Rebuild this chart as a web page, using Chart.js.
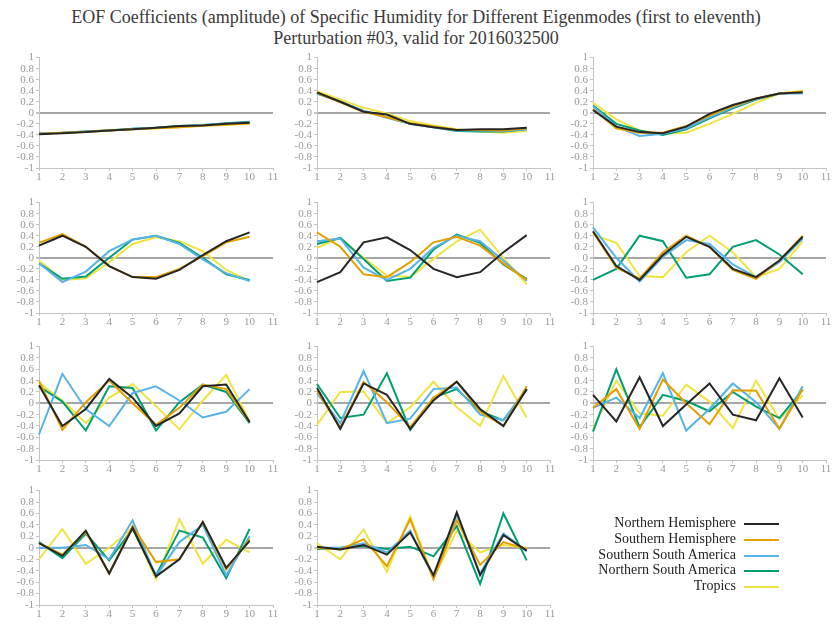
<!DOCTYPE html>
<html><head><meta charset="utf-8">
<script src="https://cdn.jsdelivr.net/npm/chart.js@4"></script>
<style>
body{margin:0;background:#fff;width:832px;height:628px;position:relative;overflow:hidden;font-family:"Liberation Serif","DejaVu Serif","Noto Serif",serif;}
#title{position:absolute;left:0;top:7px;width:832px;text-align:center;font-size:18px;line-height:21px;color:#3a3a3a}
canvas{position:absolute}
.lg{position:absolute;font-size:14px;color:#222;text-align:right;width:220px;line-height:16px;white-space:nowrap}
.ll{position:absolute;height:2px;width:35px}
</style></head><body>
<div id="title">EOF Coefficients (amplitude) of Specific Humidity for Different Eigenmodes (first to eleventh)<br>Perturbation #03, valid for 2016032500</div>
<script>
const xLabels = ['1','2','3','4','5','6','7','8','9','10','11'];
const seriesNames = ['Northern Hemisphere','Southern Hemisphere','Southern South America','Northern South America','Tropics'];
const seriesColors = ['#262626','#E69F00','#56B4E9','#009E73','#F0E442'];
const yTicks = [-1,-0.8,-0.6,-0.4,-0.2,0,0.2,0.4,0.6,0.8,1];

// each mode: [NH, SH, SSA, NSA, Tropics]
const mode01 = [
 [-0.39,-0.37,-0.35,-0.32,-0.30,-0.27,-0.24,-0.23,-0.20,-0.18],
 [-0.38,-0.36,-0.35,-0.32,-0.30,-0.28,-0.26,-0.23,-0.21,-0.19],
 [-0.37,-0.36,-0.34,-0.32,-0.29,-0.27,-0.25,-0.22,-0.20,-0.17],
 [-0.37,-0.36,-0.34,-0.32,-0.29,-0.27,-0.24,-0.22,-0.19,-0.16],
 [-0.38,-0.36,-0.34,-0.31,-0.30,-0.28,-0.26,-0.24,-0.22,-0.20]];
const mode02 = [
 [0.37,0.20,0.02,-0.03,-0.20,-0.26,-0.31,-0.30,-0.30,-0.27],
 [0.36,0.19,0.02,-0.08,-0.19,-0.25,-0.31,-0.31,-0.32,-0.28],
 [0.36,0.20,0.04,-0.09,-0.20,-0.26,-0.32,-0.32,-0.33,-0.30],
 [0.35,0.20,0.03,-0.08,-0.20,-0.26,-0.33,-0.34,-0.34,-0.30],
 [0.39,0.24,0.09,-0.01,-0.15,-0.23,-0.30,-0.34,-0.36,-0.33]];
const mode03 = [
 [0.05,-0.25,-0.35,-0.37,-0.25,-0.02,0.14,0.26,0.35,0.37],
 [0.07,-0.28,-0.36,-0.36,-0.24,-0.05,0.12,0.26,0.35,0.38],
 [0.12,-0.25,-0.42,-0.38,-0.28,-0.08,0.10,0.25,0.35,0.35],
 [0.13,-0.20,-0.32,-0.40,-0.30,-0.10,0.08,0.24,0.35,0.37],
 [0.18,-0.12,-0.32,-0.38,-0.36,-0.20,-0.02,0.18,0.35,0.40]];
const mode04 = [
 [0.22,0.40,0.20,-0.15,-0.35,-0.38,-0.22,0.05,0.30,0.46],
 [0.27,0.43,0.20,-0.15,-0.35,-0.35,-0.20,0.03,0.28,0.38],
 [-0.10,-0.44,-0.25,0.12,0.33,0.40,0.25,-0.03,-0.28,-0.42],
 [-0.10,-0.38,-0.34,0.00,0.33,0.40,0.27,0.00,-0.30,-0.40],
 [-0.05,-0.40,-0.37,-0.08,0.25,0.37,0.30,0.12,-0.22,-0.42]];
const mode05 = [
 [-0.44,-0.26,0.28,0.37,0.14,-0.20,-0.35,-0.26,0.10,0.41],
 [0.46,0.20,-0.30,-0.35,-0.08,0.28,0.38,0.22,-0.10,-0.40],
 [0.30,0.35,-0.18,-0.40,-0.20,0.18,0.40,0.30,-0.05,-0.42],
 [0.25,0.36,-0.02,-0.42,-0.36,0.15,0.42,0.27,-0.12,-0.38],
 [0.18,0.36,0.00,-0.32,-0.35,-0.02,0.30,0.51,0.00,-0.48]];
const mode06 = [
 [0.48,-0.15,-0.40,0.05,0.38,0.20,-0.20,-0.35,-0.05,0.38],
 [0.47,-0.18,-0.38,0.10,0.40,0.20,-0.22,-0.38,-0.05,0.40],
 [0.55,0.00,-0.43,0.02,0.32,0.25,-0.12,-0.35,-0.08,0.35],
 [-0.40,-0.20,0.40,0.30,-0.36,-0.30,0.20,0.32,0.06,-0.30],
 [0.42,0.27,-0.33,-0.35,0.10,0.40,0.10,-0.35,-0.20,0.30]];
const mode07 = [
 [0.32,-0.40,-0.10,0.43,0.10,-0.40,-0.18,0.30,0.33,-0.33],
 [0.40,-0.47,0.02,0.40,0.00,-0.38,-0.08,0.33,0.25,-0.33],
 [-0.55,0.52,-0.10,-0.40,0.18,0.30,0.05,-0.25,-0.15,0.25],
 [0.30,0.03,-0.48,0.30,0.27,-0.48,0.02,0.33,0.20,-0.35],
 [0.36,0.05,-0.35,0.10,0.34,-0.05,-0.46,0.05,0.50,-0.32]];
const mode08 = [
 [0.27,-0.45,0.35,0.15,-0.45,0.05,0.38,-0.10,-0.40,0.25],
 [0.22,-0.43,0.38,0.02,-0.42,0.10,0.38,-0.15,-0.40,0.30],
 [0.18,-0.35,0.57,-0.35,-0.27,0.25,0.28,-0.20,-0.30,0.25],
 [0.34,-0.26,-0.20,0.53,-0.47,0.10,0.25,-0.14,-0.30,0.25],
 [-0.38,0.20,0.21,-0.35,-0.07,0.38,-0.07,-0.40,0.48,-0.25]];
const mode09 = [
 [0.15,-0.32,0.46,-0.40,-0.02,0.35,-0.20,-0.30,0.44,-0.25],
 [-0.08,0.25,-0.45,0.42,0.00,-0.37,0.23,0.22,-0.45,0.25],
 [-0.08,0.10,-0.26,0.53,-0.48,-0.10,0.35,0.02,-0.45,0.30],
 [-0.50,0.60,-0.42,0.15,0.04,-0.14,0.20,-0.06,-0.26,0.24],
 [-0.45,0.40,-0.18,-0.22,0.33,0.03,-0.44,0.40,-0.28,0.14]];
const mode10 = [
 [0.08,-0.14,0.30,-0.45,0.35,-0.50,-0.20,0.45,-0.35,0.12],
 [0.08,-0.12,0.28,-0.45,0.38,-0.25,-0.20,0.45,-0.38,0.15],
 [0.00,0.00,0.05,-0.20,0.48,-0.50,0.10,0.40,-0.48,0.20],
 [0.10,-0.18,0.25,-0.22,0.33,-0.48,0.30,0.18,-0.53,0.33],
 [-0.20,0.33,-0.28,0.00,0.35,-0.55,0.50,-0.28,0.14,-0.08]];
const mode11 = [
 [0.02,-0.03,0.05,-0.12,0.27,-0.48,0.62,-0.48,0.22,-0.05],
 [0.00,-0.03,0.15,-0.32,0.50,-0.55,0.48,-0.30,0.10,-0.02],
 [0.00,0.00,0.08,-0.08,0.30,-0.52,0.58,-0.45,0.25,-0.06],
 [-0.02,0.00,0.03,-0.02,0.02,-0.15,0.38,-0.63,0.60,-0.22],
 [0.08,-0.20,0.32,-0.42,0.55,-0.53,0.30,-0.08,0.05,0.00]];
const modes = [mode01,mode02,mode03,mode04,mode05,mode06,mode07,mode08,mode09,mode10,mode11];

// layout
const colAxisX = [39,317,593], colRight = [273,550,826];
const rowTop = [55,200,344,488], rowH = [113,113,116,117];
const YW = 40, XH = 22, PT = 6, PR = 8;
const axisColor = '#c4c4c4', tickColor = '#9a9a9a';
const tickFont = {family:'"Liberation Serif", "DejaVu Serif", serif', size:11};

modes.forEach((m, i) => {
  const r = Math.floor(i/3), c = i%3;
  const cv = document.createElement('canvas');
  const w = colRight[c]-colAxisX[c]+YW+PR, h = rowH[r]+PT+XH;
  cv.width = w; cv.height = h;
  cv.style.left = (colAxisX[c]-YW)+'px'; cv.style.top = (rowTop[r]-PT)+'px';
  cv.style.width = w+'px'; cv.style.height = h+'px';
  document.body.appendChild(cv);
  new Chart(cv, {
    type:'line',
    data:{labels:xLabels, datasets: m.map((d,k)=>({label:seriesNames[k], data:d, borderColor:seriesColors[k], backgroundColor:seriesColors[k], borderWidth:2, pointRadius:0, tension:0, fill:false}))},
    options:{
      responsive:false, animation:false, devicePixelRatio:1,
      layout:{padding:{top:PT,right:PR,left:0,bottom:0}},
      plugins:{legend:{display:false}, tooltip:{enabled:false}},
      scales:{
        x:{type:'category', offset:false,
          afterFit:s=>{s.height=XH;},
          border:{display:true,color:axisColor,width:1},
          grid:{drawOnChartArea:false, drawTicks:true, tickLength:3, tickColor:axisColor},
          ticks:{autoSkip:false, maxRotation:0, padding:0, color:tickColor, font:tickFont}},
        y:{min:-1, max:1,
          afterFit:s=>{s.width=YW;},
          afterBuildTicks:s=>{s.ticks = yTicks.map(v=>({value:v}));},
          border:{display:true,color:axisColor,width:1},
          grid:{drawTicks:true, tickLength:3, tickColor:axisColor,
            color:ctx=>(ctx.tick && Math.abs(ctx.tick.value)<1e-9)?'#a6a6a6':'rgba(0,0,0,0)',
            lineWidth:ctx=>(ctx.tick && Math.abs(ctx.tick.value)<1e-9)?2:1},
          ticks:{autoSkip:false, padding:2, color:tickColor, font:tickFont,
            callback:v=>String(Math.round(v*10)/10)}}
      }
    }
  });
});

// legend
const legY = [524,540,556,571,587];
seriesNames.forEach((n,k)=>{
  const t = document.createElement('div'); t.className='lg'; t.textContent=n;
  t.style.left=(736-220)+'px'; t.style.top=(legY[k]-9)+'px'; document.body.appendChild(t);
  const l = document.createElement('div'); l.className='ll'; l.style.background=seriesColors[k];
  l.style.left='744px'; l.style.top=(legY[k]-1)+'px'; document.body.appendChild(l);
});
</script>
</body></html>
